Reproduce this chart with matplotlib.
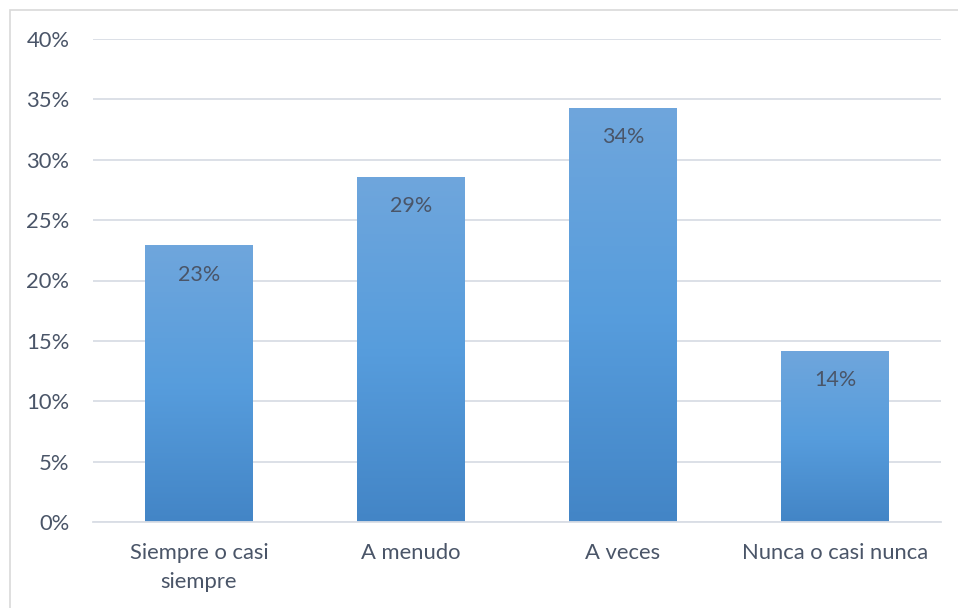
import matplotlib.pyplot as plt
import matplotlib.patches as mpatches
import numpy as np
from matplotlib.colors import LinearSegmentedColormap

categories = ["Siempre o casi\nsiempre", "A menudo", "A veces", "Nunca o casi nunca"]
values = [0.229, 0.286, 0.343, 0.142]
yticks = [0, 0.05, 0.10, 0.15, 0.20, 0.25, 0.30, 0.35, 0.40]

text_color = "#4a5568"
grid_color = "#d9dde5"
plt.rcParams["font.family"] = ["Lato", "DejaVu Sans"]

fig = plt.figure(figsize=(9.58, 6.08), dpi=100)
ax = fig.add_axes([93 / 958, 1 - 522 / 608, 848 / 958, 483 / 608])

# outer frame of the chart area
fig.patches.append(mpatches.Rectangle((10 / 958, -0.1), 1.1, 1 - 10 / 608 + 0.1,
                                      transform=fig.transFigure, fill=False,
                                      edgecolor="#d9d9d9", linewidth=1.2))

x = np.arange(len(categories))
bars = ax.bar(x, values, width=0.505, color="none", edgecolor="none", zorder=2)

grad = LinearSegmentedColormap.from_list("bar", ["#4385c6", "#579ddd", "#6fa6dc"])
for b, v in zip(bars, values):
    x0, w = b.get_x(), b.get_width()
    img = ax.imshow(np.linspace(0, 1, 256).reshape(-1, 1), cmap=grad, origin="lower",
                    extent=[x0, x0 + w, 0, v], aspect="auto", zorder=2)
    img.set_clip_path(b)
    ax.annotate(f"{v:.0%}", (x0 + w / 2, v), xytext=(0, -21), textcoords="offset points",
                ha="center", va="center", fontsize=15.5, color=text_color, zorder=3)

ax.set_xlim(-0.5, len(categories) - 0.5)
ax.set_ylim(0, 0.40)
ax.set_yticks(yticks)
ax.set_yticklabels([f"{t:.0%}" for t in yticks])
ax.set_xticks(x)
ax.set_xticklabels(categories, linespacing=1.6)
ax.grid(axis="y", color=grid_color, linewidth=1.3, zorder=0)
ax.set_axisbelow(True)
for s in ax.spines.values():
    s.set_visible(False)
ax.spines["bottom"].set_visible(True)
ax.spines["bottom"].set_color(grid_color)
ax.spines["bottom"].set_linewidth(1.3)
ax.tick_params(length=0, labelsize=15.8, labelcolor=text_color)
ax.tick_params(axis="y", pad=17)
ax.tick_params(axis="x", pad=15)

fig.savefig("out.png", dpi=100)
